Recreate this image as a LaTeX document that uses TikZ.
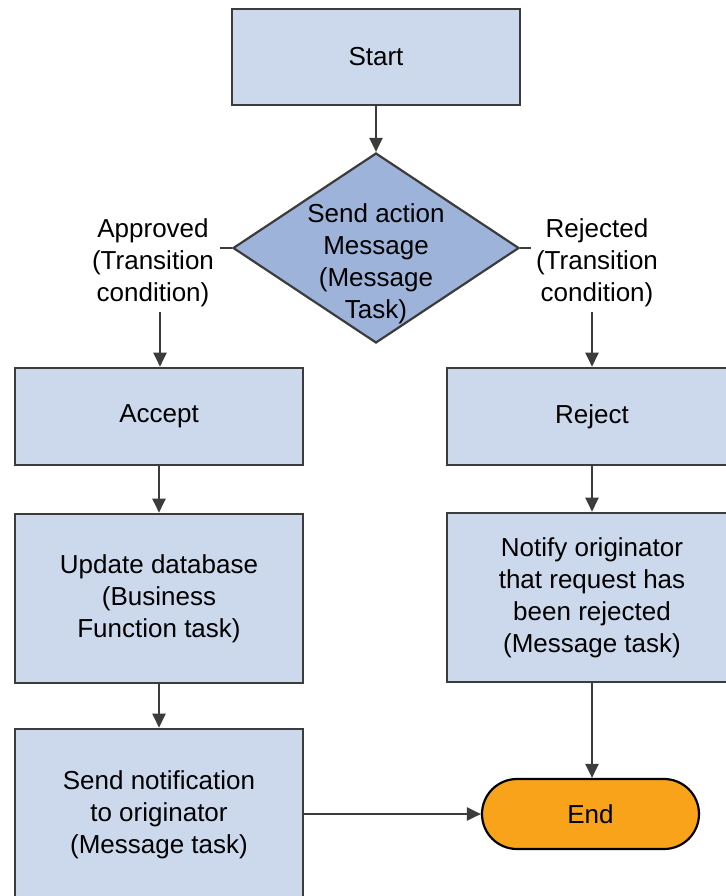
\documentclass[tikz,border=0pt]{standalone}
\usepackage{fontspec}
\setmainfont{Liberation Sans}
\usetikzlibrary{shapes.geometric,arrows.meta}
\definecolor{boxfill}{HTML}{CCD9EC}
\definecolor{decfill}{HTML}{9EB3DA}
\definecolor{endfill}{HTML}{F9A31B}
\definecolor{edge}{HTML}{3C3C3C}
\tikzset{
  txt/.style={font=\fontsize{26}{32}\selectfont, align=center, text=black, inner sep=0pt},
  pbox/.style={draw=edge, line width=2.6pt, fill=boxfill, minimum width=288pt, inner sep=0pt, txt},
  decbox/.style={draw=edge, line width=2.2pt, fill=decfill, shape=diamond, minimum width=286pt, minimum height=190pt, inner sep=0pt},
  endbox/.style={draw=black, line width=2.2pt, fill=endfill, rounded corners=35pt, minimum width=217pt, minimum height=70pt, inner sep=0pt, txt},
  arr/.style={draw=edge, line width=2.2pt, -{Triangle[length=14pt,width=13pt]}},
  stub/.style={draw=edge, line width=2.2pt}
}
\begin{document}
\begin{tikzpicture}[x=1pt,y=-1pt]
\useasboundingbox[fill=white] (0,0) rectangle (725,896);
\node[pbox, minimum height=96pt] (start) at (376,57) {Start};
\node[decbox] (dec) at (376,248) {};
\node[txt] (dectxt) at (376,264) {Send action\\Message\\(Message\\Task)};
\node[txt] (appr) at (153,263) {Approved\\(Transition\\condition)};
\node[txt] (rej) at (597,263) {Rejected\\(Transition\\condition)};
\coordinate (lstub) at (220,248);
\coordinate (rstub) at (531,248);
\coordinate (lfrom) at (160,312);
\coordinate (rfrom) at (592,312);
\node[pbox, minimum height=97pt] (accept) at (159,416.5) {Accept};
\node[pbox, minimum height=97pt, minimum width=290pt] (reject) at (592,416.5) {Reject};
\node[pbox, minimum height=169pt] (update) at (159,598.5) {Update database\\(Business\\Function task)};
\node[pbox, minimum height=169pt, minimum width=290pt] (notify) at (592,597.5) {Notify originator\\that request has\\been rejected\\(Message task)};
\node[pbox, minimum height=172pt] (sendn) at (159,815) {Send notification\\to originator\\(Message task)};
\node[endbox] (end) at (590.5,814) {End};
\draw[arr] (start) -- (dec.north);
\draw[stub] (dec.west) -- (lstub);
\draw[stub] (dec.east) -- (rstub);
\draw[arr] (lfrom) -- (lfrom |- accept.north);
\draw[arr] (rfrom) -- (rfrom |- reject.north);
\draw[arr] (accept) -- (update);
\draw[arr] (reject) -- (notify);
\draw[arr] (update) -- (sendn);
\draw[arr] (notify.south) -- (notify.south |- end.north);
\draw[arr] (sendn.east |- end.west) -- (end.west);
\end{tikzpicture}
\end{document}
